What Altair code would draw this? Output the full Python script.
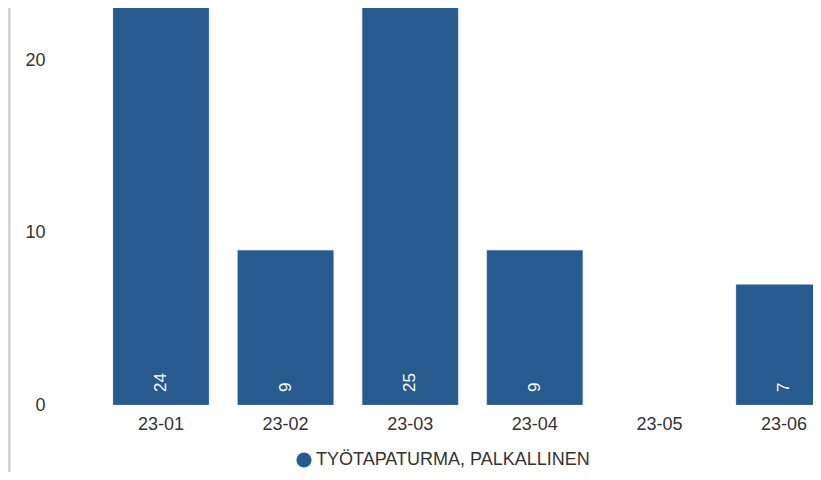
import altair as alt
import pandas as pd

months = ["23-01", "23-02", "23-03", "23-04", "23-05", "23-06"]
values = [24, 9, 25, 9, None, 7]
series_name = "TYÖTAPATURMA, PALKALLINEN"
y_ticks = [0, 10, 20]

rows = [{"month": m, "value": v, "series": series_name} for m, v in zip(months, values) if v is not None]
df = pd.DataFrame(rows)

FONT = "Liberation Sans"
BAR = "#275a8e"

x_scale = alt.Scale(domain=months, range=[38.7, 786.3], paddingInner=0.23, paddingOuter=0.115)
y_scale = alt.Scale(domain=[0, 23.08], nice=False, zero=True)

base = alt.Chart(df)

bars = base.mark_bar(color=BAR, clip=True, stroke="#8fb0d4", strokeWidth=0.6, strokeOpacity=0.6).encode(
    x=alt.X("month:N", scale=x_scale, sort=months,
            axis=alt.Axis(title=None, domain=False, ticks=False, labelAngle=0,
                          labelFont=FONT, labelFontSize=18, labelColor="#333333",
                          labelPadding=10)),
    y=alt.Y("value:Q", scale=y_scale,
            axis=alt.Axis(title=None, domain=False, ticks=False, grid=False, values=y_ticks,
                          labelFont=FONT, labelFontSize=18, labelColor="#333333",
                          labelPadding=15)),
    fill=alt.Fill("series:N", scale=alt.Scale(domain=[series_name], range=[BAR]),
                  legend=alt.Legend(title=None, orient="none", legendX=235, legendY=443,
                                    symbolType="circle", symbolSize=230, symbolStrokeWidth=0,
                                    labelFont=FONT, labelFontSize=18, labelColor="#333333",
                                    labelOffset=3, labelLimit=0)),
)

labels = base.mark_text(angle=270, align="left", baseline="middle", dx=13,
                        color="#ffffff", font=FONT, fontSize=17).encode(
    x=alt.X("month:N", scale=x_scale, sort=months),
    y=alt.datum(0),
    text=alt.Text("value:Q", format="d"),
)

strip = alt.Chart(pd.DataFrame({"a": [0]})).mark_rect(color="#d9d9d9").encode(
    x=alt.value(-52), x2=alt.value(-50.8), y=alt.value(-10), y2=alt.value(480)
)
strip_line = alt.Chart(pd.DataFrame({"a": [0]})).mark_rect(color="#bdbdbd").encode(
    x=alt.value(-50.8), x2=alt.value(-49.6), y=alt.value(-10), y2=alt.value(480)
)

chart = alt.layer(strip, strip_line, bars, labels).properties(
    width=753, height=397,
    autosize=alt.AutoSizeParams(type="none"),
    padding={"left": 52, "top": 0, "right": 0, "bottom": 67},
).configure_view(stroke=None)

chart.save("out.html", embed_options={"renderer": "svg", "actions": False})
